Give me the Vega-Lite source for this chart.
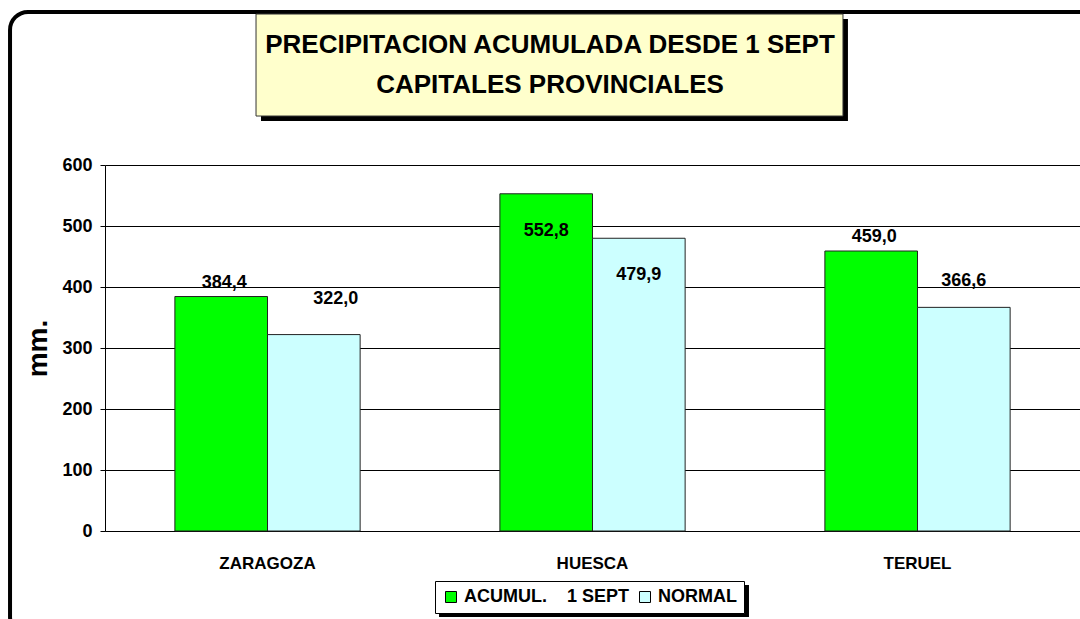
{
  "$schema": "https://vega.github.io/schema/vega-lite/v6.json",
  "width": 975,
  "height": 366,
  "autosize": "none",
  "padding": {"left": 105, "top": 165, "right": 0, "bottom": 88},
  "background": "white",
  "config": {
    "font": "Liberation Sans",
    "view": {"stroke": null},
    "locale": {"number": {"decimal": ",", "thousands": ".", "grouping": [3], "currency": ["", " €"]}}
  },
  "resolve": {"scale": {"x": "independent", "y": "independent"}},
  "layer": [
    {
      "data": {"values": [{}]},
      "layer": [
        {
          "mark": {"type": "rect", "fill": "white", "fillOpacity": 0, "stroke": "black", "strokeWidth": 4, "cornerRadius": 18},
          "encoding": {
            "x": {"datum": -0.0974, "type": "quantitative", "scale": {"domain": [0, 1], "nice": false, "zero": false}, "axis": null},
            "x2": {"datum": 1.03},
            "y": {"datum": 851, "type": "quantitative", "scale": {"domain": [0, 600], "nice": false, "zero": false}, "axis": null},
            "y2": {"datum": -170}
          }
        },
        {
          "mark": {"type": "rect", "fill": "black"},
          "encoding": {
            "x": {"datum": 0.16, "type": "quantitative", "scale": {"domain": [0, 1], "nice": false, "zero": false}, "axis": null},
            "x2": {"datum": 0.762},
            "y": {"datum": 839.3, "type": "quantitative", "scale": {"domain": [0, 600], "nice": false, "zero": false}, "axis": null},
            "y2": {"datum": 672.1}
          }
        },
        {
          "mark": {"type": "rect", "fill": "#FFFFCC", "stroke": "#333333", "strokeWidth": 1},
          "encoding": {
            "x": {"datum": 0.1549, "type": "quantitative", "scale": {"domain": [0, 1], "nice": false, "zero": false}, "axis": null},
            "x2": {"datum": 0.7569},
            "y": {"datum": 847.5, "type": "quantitative", "scale": {"domain": [0, 600], "nice": false, "zero": false}, "axis": null},
            "y2": {"datum": 680.3}
          }
        },
        {
          "mark": {"type": "text", "text": "PRECIPITACION ACUMULADA DESDE 1 SEPT", "font": "Liberation Sans", "fontWeight": "bold", "fontSize": 26, "color": "black", "baseline": "middle", "align": "center"},
          "encoding": {
            "x": {"datum": 0.4564, "type": "quantitative", "scale": {"domain": [0, 1], "nice": false, "zero": false}, "axis": null},
            "y": {"datum": 796.7, "type": "quantitative", "scale": {"domain": [0, 600], "nice": false, "zero": false}, "axis": null}
          }
        },
        {
          "mark": {"type": "text", "text": "CAPITALES PROVINCIALES", "font": "Liberation Sans", "fontWeight": "bold", "fontSize": 26, "color": "black", "baseline": "middle", "align": "center"},
          "encoding": {
            "x": {"datum": 0.4564, "type": "quantitative", "scale": {"domain": [0, 1], "nice": false, "zero": false}, "axis": null},
            "y": {"datum": 731.1, "type": "quantitative", "scale": {"domain": [0, 600], "nice": false, "zero": false}, "axis": null}
          }
        },
        {
          "mark": {"type": "rect", "fill": "black"},
          "encoding": {
            "x": {"datum": 0.3426, "type": "quantitative", "scale": {"domain": [0, 1], "nice": false, "zero": false}, "axis": null},
            "x2": {"datum": 0.6605},
            "y": {"datum": -88.5, "type": "quantitative", "scale": {"domain": [0, 600], "nice": false, "zero": false}, "axis": null},
            "y2": {"datum": -141}
          }
        }
      ]
    },
    {
      "data": {
        "values": [
          {"city": "ZARAGOZA", "serie": "ACUMUL.\u00a0\u00a0\u00a0 1 SEPT", "mm": 384.4},
          {"city": "ZARAGOZA", "serie": "NORMAL", "mm": 322.0},
          {"city": "HUESCA", "serie": "ACUMUL.\u00a0\u00a0\u00a0 1 SEPT", "mm": 552.8},
          {"city": "HUESCA", "serie": "NORMAL", "mm": 479.9},
          {"city": "TERUEL", "serie": "ACUMUL.\u00a0\u00a0\u00a0 1 SEPT", "mm": 459.0},
          {"city": "TERUEL", "serie": "NORMAL", "mm": 366.6}
        ]
      },
      "encoding": {
        "x": {
          "field": "city", "type": "nominal", "sort": ["ZARAGOZA", "HUESCA", "TERUEL"],
          "scale": {"paddingInner": 0.43, "paddingOuter": 0.215},
          "axis": {"title": null, "labelAngle": 0, "labelFont": "Liberation Sans", "labelFontWeight": "bold", "labelFontSize": 17, "labelColor": "black", "ticks": false, "labelPadding": 24, "domainColor": "black", "domainWidth": 1}
        },
        "xOffset": {"field": "serie", "type": "nominal", "sort": ["ACUMUL.\u00a0\u00a0\u00a0 1 SEPT", "NORMAL"]},
        "y": {
          "field": "mm", "type": "quantitative",
          "scale": {"domain": [0, 600], "nice": false},
          "axis": {"title": "mm.", "grid": true, "titleFont": "Liberation Sans", "titleFontWeight": "bold", "titleFontSize": 28, "titleColor": "black", "titlePadding": 9, "values": [0, 100, 200, 300, 400, 500, 600], "labelFont": "Liberation Sans", "labelFontWeight": "bold", "labelFontSize": 18, "labelColor": "black", "labelPadding": 8, "tickSize": 5, "tickColor": "black", "domainColor": "black", "gridColor": "black", "gridOpacity": 1, "gridWidth": 1, "format": "d"}
        }
      },
      "layer": [
        {
          "mark": {"type": "bar", "stroke": "#222222", "strokeWidth": 1},
          "encoding": {
            "color": {
              "field": "serie", "type": "nominal",
              "scale": {"domain": ["ACUMUL.\u00a0\u00a0\u00a0 1 SEPT", "NORMAL"], "range": ["#00FF00", "#CCFFFF"]},
              "legend": {"title": null, "orient": "none", "legendX": 330, "legendY": 416, "direction": "horizontal", "fillColor": "white", "strokeColor": "black", "padding": 7, "symbolType": "square", "symbolSize": 121, "symbolStrokeColor": "black", "symbolStrokeWidth": 1, "symbolOpacity": 1, "labelFont": "Liberation Sans", "labelFontWeight": "bold", "labelFontSize": 18, "labelColor": "black", "labelOffset": 4, "labelLimit": 400, "columnPadding": 6}
            }
          }
        },
        {
          "transform": [{"filter": "datum.serie != 'NORMAL' && datum.city != 'HUESCA'"}],
          "mark": {"type": "text", "fontWeight": "bold", "fontSize": 18, "color": "black", "baseline": "middle", "dy": -14, "dx": 3},
          "encoding": {"text": {"field": "mm", "type": "quantitative", "format": ".1f"}}
        },
        {
          "transform": [{"filter": "datum.city == 'HUESCA'"}],
          "mark": {"type": "text", "fontWeight": "bold", "fontSize": 18, "color": "black", "baseline": "middle", "dy": 37},
          "encoding": {"text": {"field": "mm", "type": "quantitative", "format": ".1f"}}
        },
        {
          "transform": [{"filter": "datum.serie == 'NORMAL' && datum.city == 'ZARAGOZA'"}],
          "mark": {"type": "text", "fontWeight": "bold", "fontSize": 18, "color": "black", "baseline": "middle", "dy": -36, "dx": 22},
          "encoding": {"text": {"field": "mm", "type": "quantitative", "format": ".1f"}}
        },
        {
          "transform": [{"filter": "datum.serie == 'NORMAL' && datum.city == 'TERUEL'"}],
          "mark": {"type": "text", "fontWeight": "bold", "fontSize": 18, "color": "black", "baseline": "middle", "dy": -26},
          "encoding": {"text": {"field": "mm", "type": "quantitative", "format": ".1f"}}
        }
      ]
    }
  ]
}
